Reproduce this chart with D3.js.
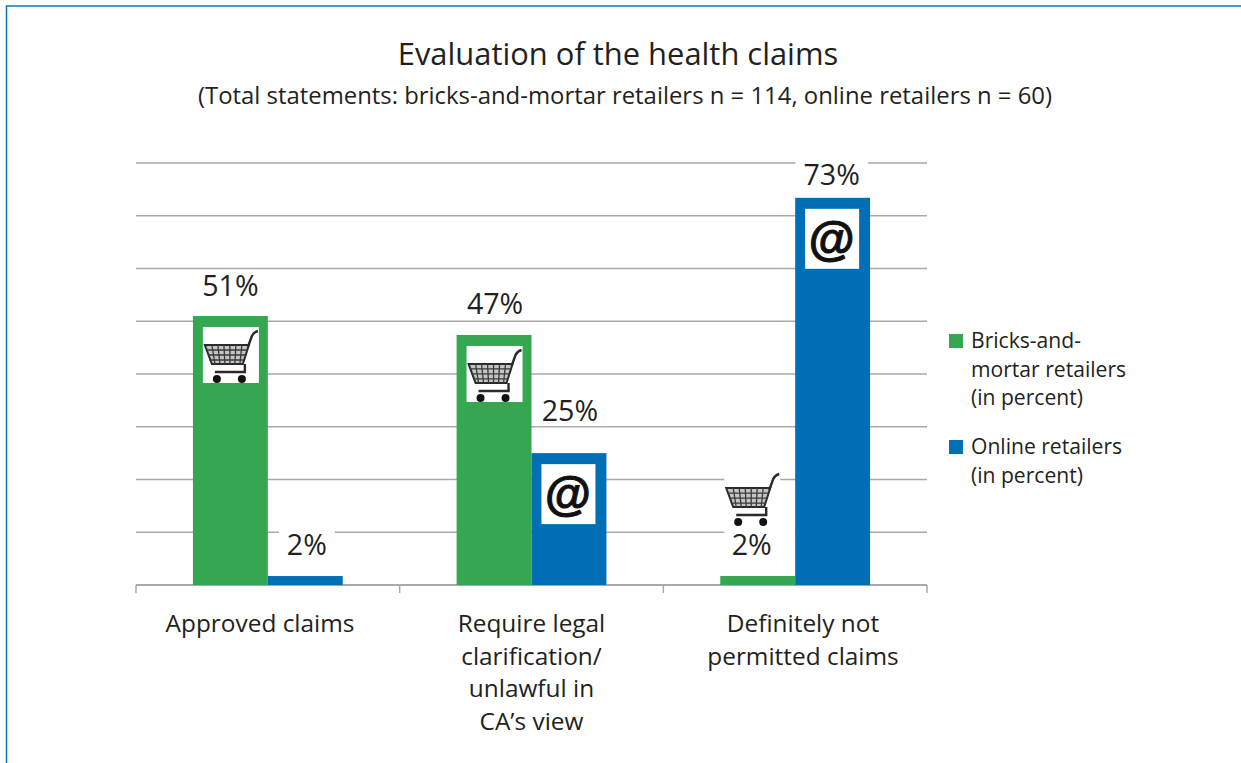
<!DOCTYPE html>
<html>
<head>
<meta charset="utf-8">
<script src="https://cdn.jsdelivr.net/npm/d3@7"></script>
<style>
  html, body { margin: 0; background: #fff; }
  svg { display: block; }
  text { font-family: "Open Sans", "Noto Sans", sans-serif; fill: #231f20; }
</style>
</head>
<body>
<div id="chart"></div>
<script>
const categories = ["Approved claims", "Require legal clarification/ unlawful in CA\u2019s view", "Definitely not permitted claims"];
const categoryLines = [["Approved claims"], ["Require legal", "clarification/", "unlawful in", "CA\u2019s view"], ["Definitely not", "permitted claims"]];
const seriesNames = ["Bricks-and-mortar retailers (in percent)", "Online retailers (in percent)"];
const legendLines = [["Bricks-and-", "mortar retailers", "(in percent)"], ["Online retailers", "(in percent)"]];
// bar heights; labels show them rounded
const bricksValues = [51, 47.4, 1.7];
const onlineValues = [1.7, 25, 73.4];
const yTicks = [0, 10, 20, 30, 40, 50, 60, 70, 80];

const green = "#34a750", blue = "#006fb5", grid = "#a9a9a9", frame = "#0a76c4";
const width = 1241, height = 763;
const margin = {top: 163, left: 136, right: 314, bottom: 178};

const svg = d3.select("#chart").append("svg").attr("width", width).attr("height", height);

// frame, open at the bottom and right
svg.append("path")
    .attr("d", `M6.5,${height} V6 H1241`)
    .attr("fill", "none").attr("stroke", frame).attr("stroke-width", 1.5);

svg.append("text").attr("x", 618).attr("y", 65).attr("text-anchor", "middle")
    .attr("font-size", 30.9).text("Evaluation of the health claims");
svg.append("text").attr("x", 625).attr("y", 104).attr("text-anchor", "middle")
    .attr("font-size", 23.9).text("(Total statements: bricks-and-mortar retailers n = 114, online retailers n = 60)");

const x0 = d3.scaleBand().domain(categories).range([margin.left, width - margin.right]);
const x1 = d3.scaleBand().domain(seriesNames).range([0, x0.bandwidth()]).paddingOuter(0.76).paddingInner(0);
const y = d3.scaleLinear().domain([0, 80]).range([height - margin.bottom, margin.top]);
// the category captions sit a bit wider apart than the bands
const xCaption = d3.scalePoint().domain(categories).range([260, 803]);

// gridlines
svg.append("g").selectAll("line").data(yTicks.slice(1)).join("line")
    .attr("x1", x0.range()[0]).attr("x2", x0.range()[1])
    .attr("y1", d => y(d)).attr("y2", d => y(d))
    .attr("stroke", grid).attr("stroke-width", 1.5);

// category axis with outward ticks at band edges
const base = y(0);
svg.append("line").attr("x1", x0.range()[0]).attr("x2", x0.range()[1])
    .attr("y1", base).attr("y2", base).attr("stroke", grid).attr("stroke-width", 2);
const edges = categories.map(c => x0(c)).concat(x0.range()[1]);
svg.append("g").selectAll("line").data(edges).join("line")
    .attr("x1", d => d).attr("x2", d => d).attr("y1", base).attr("y2", base + 8)
    .attr("stroke", grid).attr("stroke-width", 1.5);

const series = [
  {name: seriesNames[0], values: bricksValues, color: green, icon: "cart"},
  {name: seriesNames[1], values: onlineValues, color: blue, icon: "at"}
];

// hand placed label nudges, [dx, baseline above bar top] per series and category
const labelNudge = [
  [[0, 20], [1, 21], [-6, 21]],
  [[1.5, 21], [1, 32], [-1, 13]]
];

function drawIcon(sel, kind) {
  if (kind === "at") {
    sel.append("rect").attr("width", 54).attr("height", 60).attr("fill", "#fff");
    sel.append("text").attr("x", 26.5).attr("y", 46).attr("text-anchor", "middle")
        .attr("font-size", 47).attr("font-weight", 700)
        .attr("stroke", "#111").attr("stroke-width", 1.1)
        .style("font-family", "'Liberation Sans', sans-serif").style("fill", "#111").text("@");
  } else {
    const dark = "#2a2a2a";
    sel.append("rect").attr("width", 56).attr("height", 56).attr("fill", "#fff");
    sel.append("path").attr("d", "M2,18 H46 L40,37 H9 Z").attr("fill", "#c4c4c4").attr("stroke", dark).attr("stroke-width", 2);
    sel.append("path").attr("fill", "none").attr("stroke", "#3a3a3a").attr("stroke-width", 1.3)
        .attr("d", "M3.5,23 H44.5 M5,28 H43 M6.5,33 H41.5 M9,18 L12,37 M15,18 L17,37 M21,18 L22,37 M27,18 L27,37 M33,18 L32,37 M39,18 L37,37");
    sel.append("path").attr("d", "M45,20 L49,9 Q51,5 55,4 M42,37 V45 H12")
        .attr("fill", "none").attr("stroke", dark).attr("stroke-width", 2.4);
    sel.append("circle").attr("cx", 14).attr("cy", 52).attr("r", 4).attr("fill", "#111");
    sel.append("circle").attr("cx", 39).attr("cy", 52).attr("r", 4).attr("fill", "#111");
  }
}

series.forEach((s, si) => {
  const g = svg.append("g");
  g.selectAll("rect").data(s.values).join("rect")
      .attr("x", (d, i) => x0(categories[i]) + x1(s.name))
      .attr("y", d => y(d))
      .attr("width", x1.bandwidth())
      .attr("height", d => base - y(d))
      .attr("fill", s.color);

  s.values.forEach((v, i) => {
    const barX = x0(categories[i]) + x1(s.name);
    const cx = barX + x1.bandwidth() / 2;
    const top = y(v);
    const isSmall = v < 5;
    const [dx, above] = labelNudge[si][i];
    const baseline = top - above;
    // value label with a white plate that interrupts the gridlines
    const label = svg.append("g");
    const plate = label.append("rect").attr("y", baseline - 24).attr("height", 29).attr("fill", "#fff");
    const txt = label.append("text").attr("x", cx + dx).attr("y", baseline).attr("text-anchor", "middle")
        .attr("font-size", 28.6).text(Math.round(v) + "%");
    const tw = txt.node().getComputedTextLength();
    if (isSmall && si === 0) {
      // the cart label plate runs over to the neighbouring bar
      plate.attr("x", barX + 4).attr("width", x1.bandwidth() - 4);
    } else {
      plate.attr("x", cx + dx - tw / 2 - 8).attr("width", tw + 16);
    }
    if (isSmall && si === 1) return;
    const iconX = isSmall ? cx - 33.5 : cx - 27.5;
    const iconY = isSmall ? top - 106 : top + 11;
    drawIcon(svg.append("g").attr("transform", `translate(${iconX},${iconY})`), s.icon);
  });
});

// category labels
categoryLines.forEach((lines, i) => {
  lines.forEach((t, j) => {
    svg.append("text").attr("x", xCaption(categories[i])).attr("y", 632 + j * 32.5).attr("text-anchor", "middle")
        .attr("font-size", 24.4).text(t);
  });
});

// legend
const legendTops = [348, 454];
series.forEach((s, i) => {
  svg.append("rect").attr("x", 949).attr("y", legendTops[i] - 14).attr("width", 14).attr("height", 14).attr("fill", s.color);
  legendLines[i].forEach((t, j) => {
    svg.append("text").attr("x", 971).attr("y", legendTops[i] + j * 28.7)
        .attr("font-size", 21.1).text(t);
  });
});
</script>
</body>
</html>
